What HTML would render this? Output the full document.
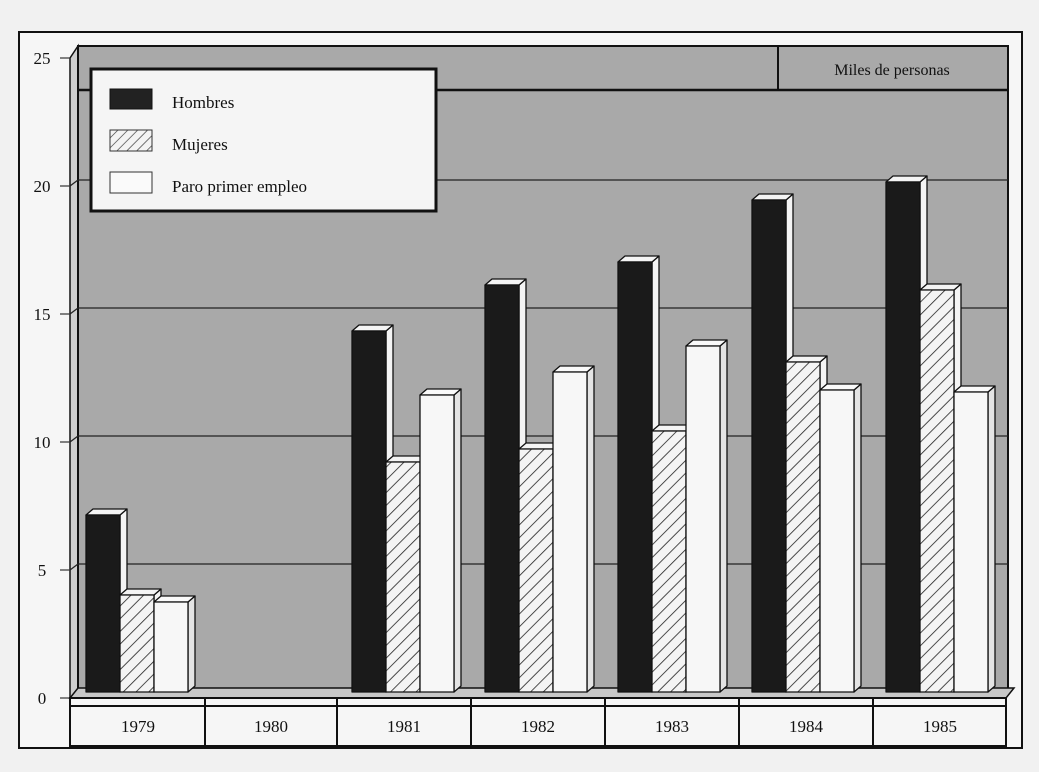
<!DOCTYPE html>
<html><head><meta charset="utf-8"><style>
html,body{margin:0;padding:0;background:#f1f1f1;}
svg{display:block;font-family:"Liberation Serif",serif;}
</style></head><body>
<svg width="1039" height="772" viewBox="0 0 1039 772" xmlns="http://www.w3.org/2000/svg">
<defs>
<pattern id="h" width="9" height="9" patternUnits="userSpaceOnUse" patternTransform="rotate(45)">
<rect width="9" height="9" fill="#f4f4f4"/><line x1="0" y1="0" x2="0" y2="9" stroke="#222" stroke-width="1.6"/>
</pattern>
<pattern id="hl" width="7" height="7" patternUnits="userSpaceOnUse" patternTransform="rotate(45)">
<rect width="7" height="7" fill="#f4f4f4"/><line x1="0" y1="0" x2="0" y2="7" stroke="#333" stroke-width="1.3"/>
</pattern>
</defs>
<rect width="1039" height="772" fill="#f1f1f1"/>
<rect x="19" y="32" width="1003" height="716" fill="#f6f6f6" stroke="#111" stroke-width="2"/>
<!-- left side wall -->
<polygon points="70,58 78,46 78,690 70,698" fill="#cfcfcf" stroke="#111" stroke-width="1.5"/>
<!-- back wall -->
<rect x="78" y="46" width="930" height="644" fill="#a9a9a9" stroke="#111" stroke-width="2"/>
<line x1="78" y1="90" x2="1008" y2="90" stroke="#111" stroke-width="2.5"/>
<line x1="778" y1="46" x2="778" y2="90" stroke="#111" stroke-width="2"/>
<text x="892" y="75" font-size="16" text-anchor="middle" fill="#111">Miles de personas</text>
<g stroke="#222" stroke-width="1.3">
<line x1="78" y1="180" x2="1008" y2="180"/><line x1="78" y1="308" x2="1008" y2="308"/>
<line x1="78" y1="436" x2="1008" y2="436"/><line x1="78" y1="564" x2="1008" y2="564"/>
<line x1="70" y1="186" x2="78" y2="180"/><line x1="70" y1="314" x2="78" y2="308"/>
<line x1="70" y1="442" x2="78" y2="436"/><line x1="70" y1="570" x2="78" y2="564"/>
</g>
<!-- floor -->
<polygon points="70,698 78,688 1014,688 1006,698" fill="#c8c8c8" stroke="#111" stroke-width="1.5"/>
<!-- y ticks & labels -->
<g stroke="#333" stroke-width="1.2">
<line x1="60" y1="58" x2="70" y2="58"/><line x1="60" y1="186" x2="70" y2="186"/><line x1="60" y1="314" x2="70" y2="314"/>
<line x1="60" y1="442" x2="70" y2="442"/><line x1="60" y1="570" x2="70" y2="570"/><line x1="60" y1="698" x2="70" y2="698"/>
</g>
<g font-size="17" text-anchor="middle" fill="#111">
<text x="42" y="64">25</text><text x="42" y="192">20</text><text x="42" y="320">15</text>
<text x="42" y="448">10</text><text x="42" y="576">5</text><text x="42" y="704">0</text>
</g>
<!-- bottom axis band -->
<rect x="70" y="698" width="936" height="48" fill="#f6f6f6" stroke="#111" stroke-width="2"/>
<line x1="70" y1="706" x2="1006" y2="706" stroke="#111" stroke-width="2"/>
<g stroke="#111" stroke-width="2">
<line x1="205" y1="698" x2="205" y2="746"/><line x1="337" y1="698" x2="337" y2="746"/><line x1="471" y1="698" x2="471" y2="746"/>
<line x1="605" y1="698" x2="605" y2="746"/><line x1="739" y1="698" x2="739" y2="746"/><line x1="873" y1="698" x2="873" y2="746"/>
</g>
<g font-size="17" text-anchor="middle" fill="#111">
<text x="138" y="732">1979</text><text x="271" y="732">1980</text><text x="404" y="732">1981</text>
<text x="538" y="732">1982</text><text x="672" y="732">1983</text><text x="806" y="732">1984</text><text x="940" y="732">1985</text>
</g>
<!-- bars -->
<g stroke="#111" stroke-width="1.3" stroke-linejoin="round">
<!-- 1979 -->
<polygon points="120,515 127,509 127,686 120,692" fill="#f4f4f4"/><polygon points="86,515 93,509 127,509 120,515" fill="#f4f4f4"/><rect x="86" y="515" width="34" height="177" fill="#1a1a1a"/>
<polygon points="154,595 161,589 161,686 154,692" fill="#f4f4f4"/><polygon points="120,595 127,589 161,589 154,595" fill="#f4f4f4"/><rect x="120" y="595" width="34" height="97" fill="url(#h)"/>
<polygon points="188,602 195,596 195,686 188,692" fill="#e4e4e4"/><polygon points="154,602 161,596 195,596 188,602" fill="#fafafa"/><rect x="154" y="602" width="34" height="90" fill="#f7f7f7"/>
<!-- 1981 -->
<polygon points="386,331 393,325 393,686 386,692" fill="#f4f4f4"/><polygon points="352,331 359,325 393,325 386,331" fill="#f4f4f4"/><rect x="352" y="331" width="34" height="361" fill="#1a1a1a"/>
<polygon points="420,462 427,456 427,686 420,692" fill="#f4f4f4"/><polygon points="386,462 393,456 427,456 420,462" fill="#f4f4f4"/><rect x="386" y="462" width="34" height="230" fill="url(#h)"/>
<polygon points="454,395 461,389 461,686 454,692" fill="#e4e4e4"/><polygon points="420,395 427,389 461,389 454,395" fill="#fafafa"/><rect x="420" y="395" width="34" height="297" fill="#f7f7f7"/>
<!-- 1982 -->
<polygon points="519,285 526,279 526,686 519,692" fill="#f4f4f4"/><polygon points="485,285 492,279 526,279 519,285" fill="#f4f4f4"/><rect x="485" y="285" width="34" height="407" fill="#1a1a1a"/>
<polygon points="553,449 560,443 560,686 553,692" fill="#f4f4f4"/><polygon points="519,449 526,443 560,443 553,449" fill="#f4f4f4"/><rect x="519" y="449" width="34" height="243" fill="url(#h)"/>
<polygon points="587,372 594,366 594,686 587,692" fill="#e4e4e4"/><polygon points="553,372 560,366 594,366 587,372" fill="#fafafa"/><rect x="553" y="372" width="34" height="320" fill="#f7f7f7"/>
<!-- 1983 -->
<polygon points="652,262 659,256 659,686 652,692" fill="#f4f4f4"/><polygon points="618,262 625,256 659,256 652,262" fill="#f4f4f4"/><rect x="618" y="262" width="34" height="430" fill="#1a1a1a"/>
<polygon points="686,431 693,425 693,686 686,692" fill="#f4f4f4"/><polygon points="652,431 659,425 693,425 686,431" fill="#f4f4f4"/><rect x="652" y="431" width="34" height="261" fill="url(#h)"/>
<polygon points="720,346 727,340 727,686 720,692" fill="#e4e4e4"/><polygon points="686,346 693,340 727,340 720,346" fill="#fafafa"/><rect x="686" y="346" width="34" height="346" fill="#f7f7f7"/>
<!-- 1984 -->
<polygon points="786,200 793,194 793,686 786,692" fill="#f4f4f4"/><polygon points="752,200 759,194 793,194 786,200" fill="#f4f4f4"/><rect x="752" y="200" width="34" height="492" fill="#1a1a1a"/>
<polygon points="820,362 827,356 827,686 820,692" fill="#f4f4f4"/><polygon points="786,362 793,356 827,356 820,362" fill="#f4f4f4"/><rect x="786" y="362" width="34" height="330" fill="url(#h)"/>
<polygon points="854,390 861,384 861,686 854,692" fill="#e4e4e4"/><polygon points="820,390 827,384 861,384 854,390" fill="#fafafa"/><rect x="820" y="390" width="34" height="302" fill="#f7f7f7"/>
<!-- 1985 -->
<polygon points="920,182 927,176 927,686 920,692" fill="#f4f4f4"/><polygon points="886,182 893,176 927,176 920,182" fill="#f4f4f4"/><rect x="886" y="182" width="34" height="510" fill="#1a1a1a"/>
<polygon points="954,290 961,284 961,686 954,692" fill="#f4f4f4"/><polygon points="920,290 927,284 961,284 954,290" fill="#f4f4f4"/><rect x="920" y="290" width="34" height="402" fill="url(#h)"/>
<polygon points="988,392 995,386 995,686 988,692" fill="#e4e4e4"/><polygon points="954,392 961,386 995,386 988,392" fill="#fafafa"/><rect x="954" y="392" width="34" height="300" fill="#f7f7f7"/>
</g>
<!-- legend -->
<rect x="91" y="69" width="345" height="142" fill="#f5f5f5" stroke="#111" stroke-width="3"/>
<rect x="110" y="89" width="42" height="20" fill="#222" stroke="#111" stroke-width="1"/>
<rect x="110" y="130" width="42" height="21" fill="url(#hl)" stroke="#333" stroke-width="1"/>
<rect x="110" y="172" width="42" height="21" fill="#fafafa" stroke="#333" stroke-width="1"/>
<g font-size="17" fill="#111">
<text x="172" y="108">Hombres</text>
<text x="172" y="150">Mujeres</text>
<text x="172" y="192">Paro primer empleo</text>
</g>
</svg>
</body></html>
